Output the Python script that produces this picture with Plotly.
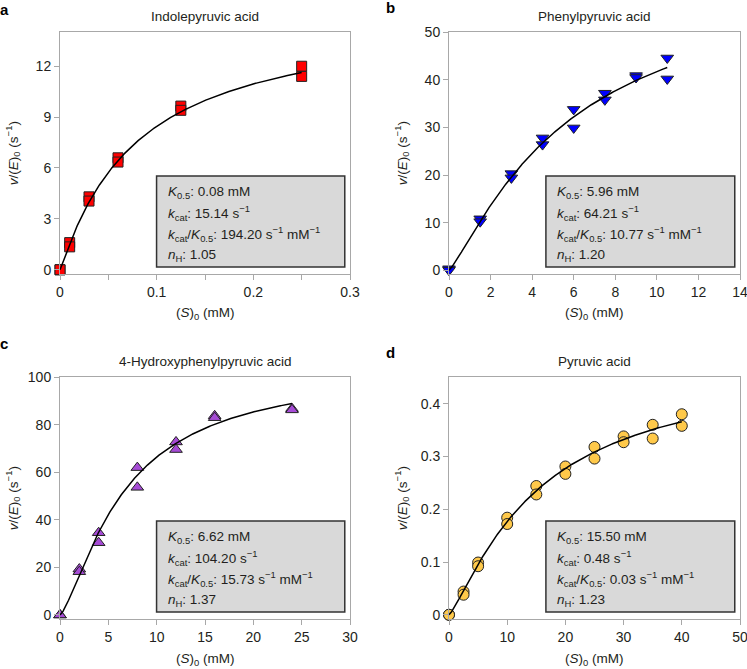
import numpy as np
import plotly.graph_objects as go

# substrate concentrations (mM) and rates v/(E)0 (s-1), duplicates per concentration
a_x = [0, 0, 0.01, 0.01, 0.03, 0.03, 0.06, 0.06, 0.125, 0.125, 0.25, 0.25]
a_y = [0, 0, 1.6, 1.35, 4.3, 4.05, 6.6, 6.35, 9.65, 9.4, 12.0, 11.4]

b_x = [0, 0, 1.5, 1.5, 3, 3, 4.5, 4.5, 6, 6, 7.5, 7.5, 9, 9, 10.5, 10.5]
b_y = [0.3, 0, 10.8, 10.2, 20.3, 19.4, 27.8, 26.4, 33.8, 29.9, 37.2, 35.8, 40.9, 40.5, 44.6, 40.2]

c_x = [0, 0, 2, 2, 4, 4, 8, 8, 12, 12, 16, 16, 24, 24]
c_y = [0, 0, 19.3, 18.2, 34.6, 30.4, 62.0, 53.7, 72.8, 69.6, 83.8, 83.0, 86.8, 86.3]

d_x = [0, 0, 2.5, 2.5, 5, 5, 10, 10, 15, 15, 20, 20, 25, 25, 30, 30, 35, 35, 40, 40]
d_y = [0, 0, 0.044, 0.038, 0.099, 0.092, 0.184, 0.172, 0.244, 0.228, 0.281, 0.267,
       0.318, 0.296, 0.338, 0.327, 0.360, 0.334, 0.380, 0.358]

# fitted Hill parameters shown in each panel
titles = ['Indolepyruvic acid', 'Phenylpyruvic acid',
          '4-Hydroxyphenylpyruvic acid', 'Pyruvic acid']
K05 = [0.08, 5.96, 6.62, 15.50]
kcat = [15.14, 64.21, 104.20, 0.48]
kcat_K = [194.20, 10.77, 15.73, 0.03]
nH = [1.05, 1.20, 1.37, 1.23]

# axis settings
x_ranges = [[0, 0.3], [0, 14], [0, 30], [0, 50]]
x_dticks = [0.1, 2, 5, 10]
y_ranges = [[-0.25, 14], [-0.8, 50], [-1.7, 100], [-0.008, 0.45]]
y_dticks = [3, 10, 20, 0.1]

symbols = ['square', 'triangle-down', 'triangle-up', 'circle']
colors = ['#ff0000', '#0000ff', '#a64bd6', '#ffc94a']
sizes = [10, 11, 11, 11]
letters = ['a', 'b', 'c', 'd']

data = [(a_x, a_y), (b_x, b_y), (c_x, c_y), (d_x, d_y)]

FONT = 'Liberation Sans, Arial, sans-serif'
TXT = '#231f20'
AX = '#a8a8a8'

fig = go.Figure()

xdom = [[60 / 747, 350 / 747], [449 / 747, 740 / 747]]
ydom = [[1 - 274 / 669, 1 - 32.3 / 669], [1 - 619 / 669, 1 - 377.3 / 669]]

for i, (xs, ys) in enumerate(data):
    n = i + 1
    xa = 'x' if n == 1 else f'x{n}'
    ya = 'y' if n == 1 else f'y{n}'
    # fitted Hill curve
    s = np.linspace(0, max(xs), 300)
    v = kcat[i] * s ** nH[i] / (K05[i] ** nH[i] + s ** nH[i])
    fig.add_trace(go.Scatter(
        x=xs, y=ys, mode='markers', xaxis=xa, yaxis=ya, cliponaxis=False,
        marker=dict(symbol=symbols[i], size=sizes[i], color=colors[i],
                    line=dict(color='#222222', width=1)),
        showlegend=False))
    fig.add_trace(go.Scatter(
        x=s, y=v, mode='lines', xaxis=xa, yaxis=ya, cliponaxis=False,
        line=dict(color='black', width=1.5), showlegend=False))

    col, row = i % 2, i // 2
    xkey = 'xaxis' if n == 1 else f'xaxis{n}'
    ykey = 'yaxis' if n == 1 else f'yaxis{n}'
    xax = dict(domain=xdom[col], anchor=ya, range=x_ranges[i], dtick=x_dticks[i], tick0=0,
               showline=True, mirror=True, linecolor=AX, linewidth=1, automargin=False,
               ticks='outside', ticklen=5, tickcolor=AX, showgrid=False, zeroline=False,
               ticklabeloverflow='allow',
               tickfont=dict(size=14, color=TXT, family=FONT))
    if n == 1:
        xax['minor'] = dict(dtick=0.05, tick0=0, ticks='outside', ticklen=5, tickcolor=AX)
    yax = dict(domain=ydom[row], anchor=xa, range=y_ranges[i], dtick=y_dticks[i], tick0=0,
               showline=True, mirror=True, linecolor=AX, linewidth=1, automargin=False,
               ticks='outside', ticklen=5, tickcolor=AX, showgrid=False, zeroline=False,
               ticklabeloverflow='allow',
               tickfont=dict(size=14, color=TXT, family=FONT))
    fig.update_layout({xkey: xax, ykey: yax})

    xd = f'{xa} domain'
    yd = f'{ya} domain'
    # parameter box
    fig.add_shape(type='rect', xref=xd, yref=yd, x0=0.333, x1=0.982, y0=0.029, y1=0.405,
                  fillcolor='#d9d9d9', line=dict(color='#333333', width=1.5), layer='above')
    lines = [
        f'<i>K</i><sub>0.5</sub>: {K05[i]:.2f} mM',
        f'<i>k</i><sub>cat</sub>: {kcat[i]:.2f} s<sup>−1</sup>',
        f'<i>k</i><sub>cat</sub>/<i>K</i><sub>0.5</sub>: {kcat_K[i]:.2f} s<sup>−1</sup> mM<sup>−1</sup>',
        f'<i>n</i><sub>H</sub>: {nH[i]:.2f}',
    ]
    for j, t in enumerate(lines):
        fig.add_annotation(text=t, xref=xd, yref=yd, x=0.333, y=0.405, xshift=9,
                           yshift=-16 - 21 * j, xanchor='left', yanchor='middle',
                           showarrow=False, font=dict(size=13.5, color=TXT, family=FONT))
    # title
    fig.add_annotation(text=titles[i], xref=xd, yref=yd, x=0.5, y=1, yshift=16,
                       xanchor='center', yanchor='middle', showarrow=False,
                       font=dict(size=13.5, color=TXT, family=FONT))
    # axis titles
    fig.add_annotation(text='(<i>S</i>)<sub>0</sub> (mM)', xref=xd, yref=yd, x=0.5, y=0,
                       yshift=-40, xanchor='center', yanchor='middle', showarrow=False,
                       font=dict(size=13.5, color=TXT, family=FONT))
    fig.add_annotation(text='<i>v</i>/(<i>E</i>)<sub>0</sub> (s<sup>−1</sup>)', xref=xd, yref=yd,
                       x=0, y=0.5, xshift=-47, textangle=-90, xanchor='center', yanchor='middle',
                       showarrow=False, font=dict(size=13.5, color=TXT, family=FONT))

# panel letters
for lt, px, py in zip(letters, [4, 390, 4, 390], [9, 8, 343, 352]):
    fig.add_annotation(text=f'<b>{lt}</b>', xref='paper', yref='paper', x=px / 747,
                       y=1 - py / 669, xanchor='center', yanchor='middle', showarrow=False,
                       font=dict(size=15, color='black', family=FONT))

fig.update_layout(width=747, height=669, margin=dict(l=0, r=0, t=0, b=0),
                  paper_bgcolor='white', plot_bgcolor='white',
                  font=dict(family=FONT, color=TXT))

# drop the default page margin so the figure fills the window
fig.write_html('out.html', config={'displayModeBar': False},
               post_script="document.body.style.margin='0';")
